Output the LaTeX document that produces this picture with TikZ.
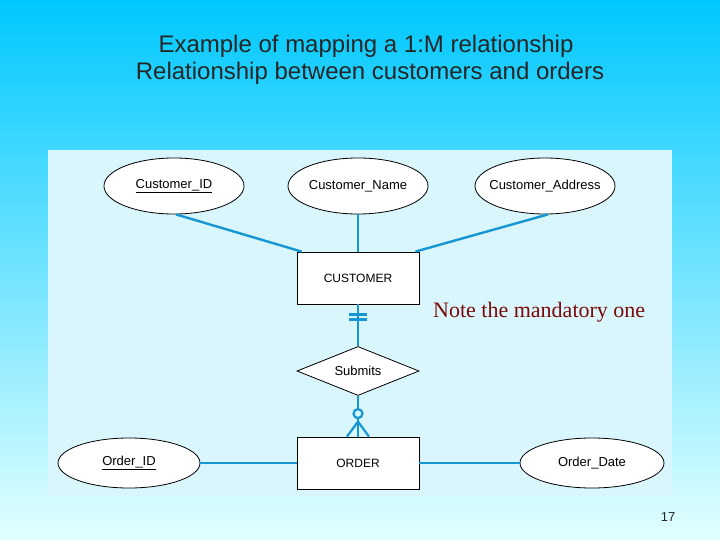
\documentclass[tikz,border=0pt]{standalone}
\usepackage{fontspec}
\setmainfont{Liberation Sans}
\newfontfamily\seriffont{Liberation Serif}
\usetikzlibrary{shapes.geometric}
\definecolor{topc}{HTML}{00C8FF}
\definecolor{botc}{HTML}{E2FFFF}
\definecolor{panel}{HTML}{D8F6FC}
\definecolor{erblue}{HTML}{1696D2}
\definecolor{notered}{HTML}{7A0A0A}
\newcommand{\zw}[1]{\makebox[0pt][c]{#1}}
\tikzset{
  attr/.style={ellipse, draw=black, line width=0.8pt, fill=white, minimum width=140, minimum height=56, inner sep=0pt, font=\fontsize{13}{15}\selectfont},
  entity/.style={rectangle, draw=black, line width=0.8pt, fill=white, minimum width=122, minimum height=52, inner sep=0pt, font=\fontsize{12}{14}\selectfont},
  rel/.style={diamond, draw=black, line width=0.8pt, fill=white, minimum width=122, minimum height=49, inner sep=0pt, aspect=2.5, font=\fontsize{13}{15}\selectfont},
  conn/.style={draw=erblue, line width=2.4pt},
  mark2/.style={draw=erblue, line width=2.2pt},
  titletext/.style={font=\fontsize{24}{28}\selectfont, text=black!85}
}
\begin{document}
\begin{tikzpicture}[x=1pt,y=-1pt]
\useasboundingbox (0,0) rectangle (720,540);
\shade[top color=topc, bottom color=botc] (0,0) rectangle (720,540);
\fill[panel] (48,150) rectangle (672,497);

\node[titletext] (t1) at (366,46) {Example of mapping a 1:M relationship};
\node[titletext] (t2) at (370,73) {Relationship between customers and orders};

\node[attr] (cid) at (174,186) {\zw{\underline{Customer\_ID}}};
\node[attr] (cname) at (358,186) {\zw{Customer\_Name}};
\node[attr] (caddr) at (545,186) {\zw{Customer\_Address}};
\node[entity] (cust) at (358,278) {CUSTOMER};
\node[rel] (sub) at (358,371) {\zw{Submits}};
\node[entity] (ord) at (358,463) {ORDER};
\node[attr, minimum width=142, minimum height=50] (oid) at (129,463) {\zw{\underline{Order\_ID}}};
\node[attr, minimum width=144, minimum height=50] (odate) at (592,463) {\zw{Order\_Date}};

\draw[conn] ([xshift=2]cid.south) -- ([xshift=5]cust.north west);
\draw[conn] (cname.south) -- (cust.north);
\draw[conn] ([xshift=3]caddr.south) -- ([xshift=-4]cust.north east);
\draw[conn] (cust.south) -- (sub.north);
\draw[conn] (sub.south) -- (ord.north);
\draw[conn] (oid.east) -- (ord.west);
\draw[conn] (ord.east) -- (odate.west);

% mandatory one bars
\draw[mark2] ([xshift=-9,yshift=-10]cust.south) -- ([xshift=9,yshift=-10]cust.south);
\draw[mark2] ([xshift=-9,yshift=-15]cust.south) -- ([xshift=9,yshift=-15]cust.south);
% optional many
\coordinate (apex) at ([yshift=15]ord.north);
\draw[mark2, fill=panel] ([yshift=23]ord.north) circle (4.5);
\draw[mark2] (apex) -- ([xshift=-11]ord.north);
\draw[mark2] (apex) -- ([xshift=11]ord.north);

\node[font=\seriffont\fontsize{22}{26}\selectfont, text=notered, anchor=west, inner sep=0pt] (note) at (433,312) {Note the mandatory one};
\node[font=\fontsize{13}{15}\selectfont, text=black!85] (num) at (668,517) {17};
\end{tikzpicture}
\end{document}
